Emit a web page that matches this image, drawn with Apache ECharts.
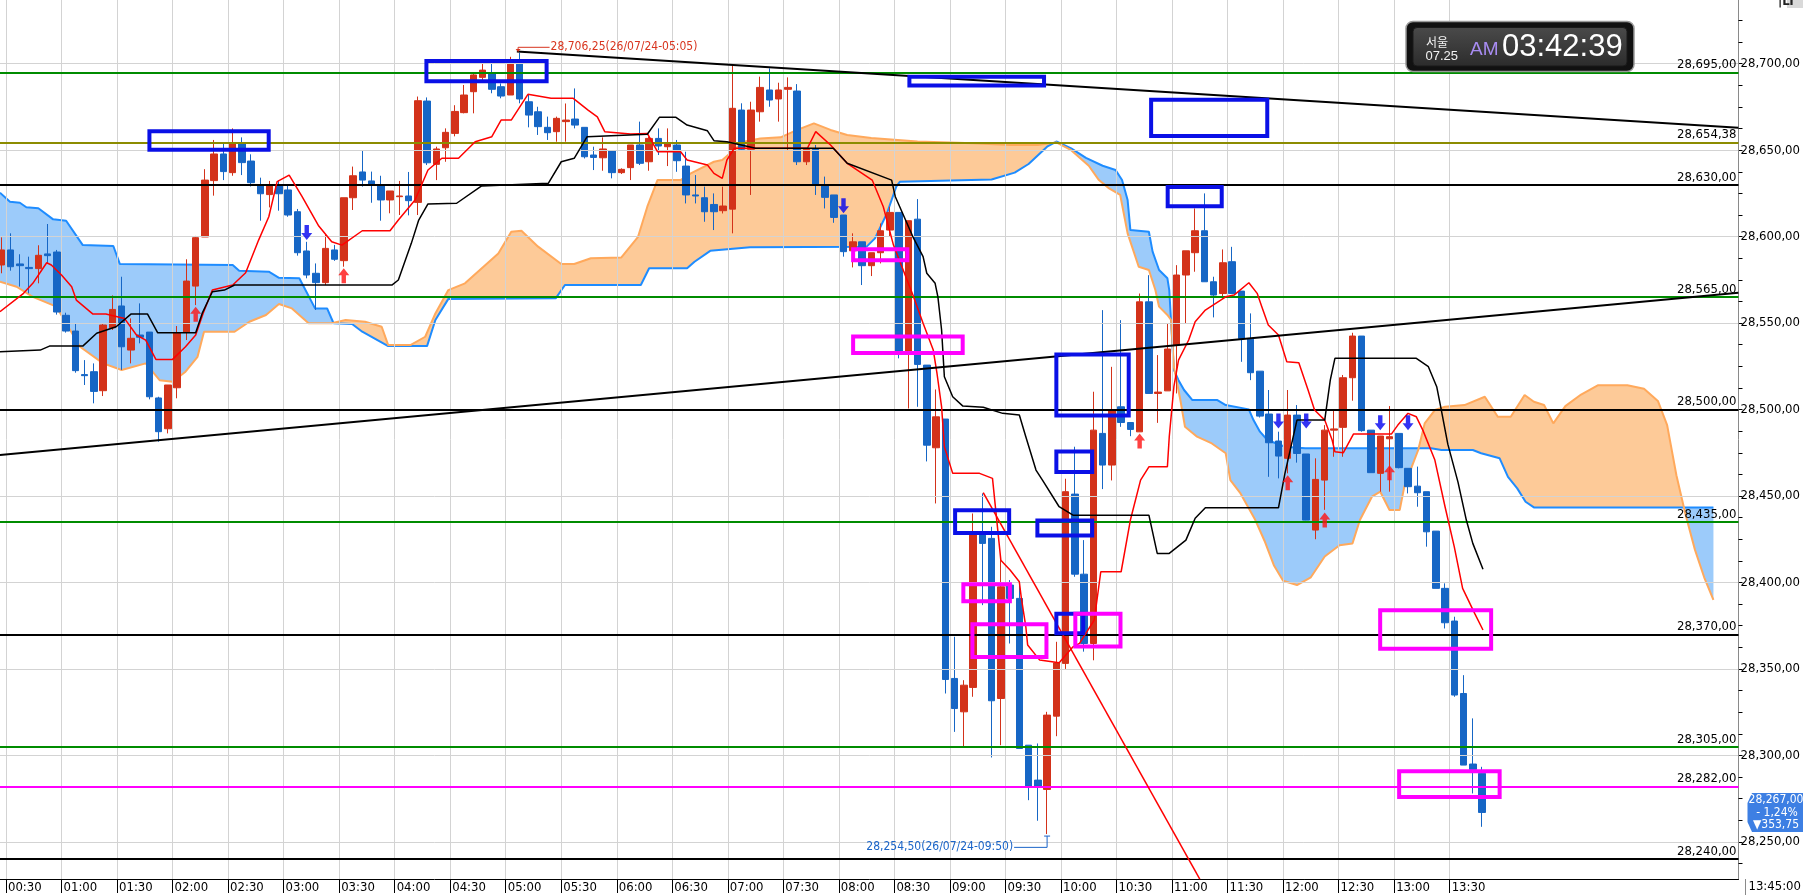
<!DOCTYPE html>
<html><head><meta charset="utf-8">
<script src="https://cdn.jsdelivr.net/npm/echarts@6/dist/echarts.min.js"></script>
<style>html,body{margin:0;padding:0;background:#fff}#c{width:1803px;height:895px}</style>
</head><body><div id="c"></div>
<script>
// ---------- DATA ----------
// 5-minute candles, first bar (-1) = 00:25, bar 0 = 00:30, last bar 159 = 13:45
const FIRST_BAR = -1;
const candleOpen = [
28583.6,28592.3,28584.2,28582.2,28581.5,28590.0,28591.1,28554.5,28545.4,28520.2,
28521.9,28510.9,28547.3,28559.9,28534.4,28543.1,28544.8,28506.7,28488.9,28512.6,
28544.8,28571.4,28599.8,28632.4,28647.8,28637.0,28654.0,28643.7,28629.9,28624.3,
28629.9,28627.0,28614.4,28591.7,28578.8,28573.4,28592.3,28586.1,28622.5,28637.4,
28632.2,28629.9,28621.2,28623.1,28623.5,28619.8,28678.4,28641.8,28651.4,28659.7,
28671.7,28683.8,28692.1,28694.4,28686.7,28681.9,28700.2,28678.0,28672.2,28663.2,
28660.7,28666.5,28668.0,28663.2,28647.2,28645.6,28649.5,28637.0,28639.9,28653.0,
28643.3,28656.8,28652.0,28653.0,28640.8,28624.1,28622.5,28618.6,28615.0,28615.9,
28673.2,28650.5,28672.2,28684.8,28679.6,28685.2,28684.2,28643.3,28650.5,28629.8,
28624.1,28612.5,28591.8,28597.0,28583.2,28590.7,28603.8,28614.0,28533.4,28610.1,
28525.7,28477.9,28494.5,28344.5,28325.2,28339.3,28427.4,28425.5,28332.9,28398.5,
28390.8,28305.9,28285.7,28280.3,28322.7,28353.2,28451.1,28404.8,28364.7,28486.2,
28467.9,28501.6,28492.5,28487.1,28562.3,28509.3,28510.8,28537.3,28577.8,28590.7,
28603.4,28573.9,28567.1,28585.5,28568.5,28540.7,28522.2,28497.4,28481.8,28471.8,
28496.8,28474.3,28430.3,28459.2,28488.1,28489.7,28518.4,28542.5,28488.1,28463.1,
28483.1,28486.2,28466.0,28455.7,28452.5,28429.7,28396.6,28377.7,28335.8,28295.0,
28289.6];
const candleHigh = [
28599.6,28601.9,28589.8,28588.4,28595.0,28607.3,28592.3,28556.0,28549.8,28528.6,
28526.7,28549.8,28566.0,28576.8,28552.7,28561.4,28544.8,28507.4,28514.2,28548.3,
28586.9,28600.4,28639.0,28655.9,28653.6,28662.6,28657.4,28647.6,28634.1,28632.2,
28632.7,28629.7,28616.0,28597.0,28584.5,28601.0,28595.2,28622.5,28640.5,28649.7,
28637.6,28635.2,28626.4,28632.2,28637.4,28681.0,28680.5,28652.0,28662.6,28676.0,
28687.7,28694.4,28700.2,28700.2,28688.6,28704.0,28706.25,28681.9,28675.1,28669.4,
28669.4,28677.0,28685.7,28663.2,28652.0,28657.4,28649.5,28639.5,28653.0,28666.5,
28657.8,28662.6,28662.6,28655.9,28649.1,28635.6,28628.9,28625.0,28628.9,28699.2,
28677.1,28678.0,28692.5,28697.3,28689.0,28692.1,28688.2,28650.5,28653.0,28634.7,
28624.1,28612.5,28601.9,28597.0,28590.7,28607.6,28617.3,28614.0,28609.2,28621.7,
28525.7,28511.6,28494.5,28368.6,28343.5,28439.9,28451.5,28432.2,28414.0,28401.4,
28400.4,28305.9,28306.9,28325.2,28365.7,28460.0,28478.5,28424.5,28510.3,28557.5,
28524.7,28551.7,28492.5,28567.1,28577.7,28531.5,28549.8,28583.5,28591.8,28616.3,
28625.0,28576.8,28592.6,28594.1,28568.5,28555.6,28522.2,28511.3,28487.2,28511.3,
28502.6,28474.3,28471.8,28491.0,28499.7,28520.0,28544.4,28542.5,28488.1,28484.7,
28502.0,28486.2,28466.0,28467.0,28452.5,28429.7,28399.5,28380.2,28346.4,28321.4,
28293.4];
const candleLow = [
28578.8,28580.3,28571.1,28567.2,28573.0,28584.5,28554.9,28544.5,28521.3,28514.2,
28503.6,28507.8,28546.0,28522.9,28526.7,28538.3,28505.9,28481.4,28486.2,28506.5,
28540.2,28560.4,28599.8,28623.7,28632.7,28635.2,28635.6,28629.0,28609.2,28616.9,
28615.0,28611.5,28589.0,28575.9,28557.6,28572.0,28586.0,28582.6,28615.4,28628.9,
28619.6,28609.2,28613.5,28612.5,28612.3,28612.5,28641.4,28632.7,28643.3,28658.0,
28671.3,28671.3,28689.6,28682.9,28680.0,28681.9,28677.1,28663.2,28658.8,28655.9,
28654.9,28654.9,28662.6,28645.2,28638.5,28638.1,28633.7,28636.2,28632.7,28641.4,
28638.1,28647.2,28640.8,28637.5,28619.2,28619.2,28608.6,28603.8,28613.4,28601.9,
28650.1,28624.1,28666.5,28675.1,28666.5,28650.1,28641.4,28641.4,28624.1,28616.3,
28608.0,28588.4,28582.2,28572.0,28577.2,28584.5,28600.0,28529.6,28500.6,28501.6,
28470.0,28445.7,28335.8,28313.6,28305.0,28333.9,28386.9,28298.8,28305.9,28364.7,
28304.0,28274.1,28262.2,28254.5,28311.1,28350.0,28403.3,28360.0,28355.0,28454.0,
28459.0,28490.0,28484.6,28487.1,28509.3,28492.3,28510.8,28509.3,28549.8,28579.7,
28573.9,28553.3,28564.3,28567.1,28527.6,28517.0,28495.4,28461.1,28460.2,28463.1,
28469.3,28436.0,28425.0,28442.0,28472.7,28472.7,28505.1,28487.2,28463.5,28452.5,
28452.5,28466.0,28451.5,28443.8,28420.7,28396.6,28373.4,28333.9,28294.4,28278.0,
28258.7];
const candleClose = [
28592.3,28582.6,28583.2,28581.5,28589.2,28589.0,28556.4,28545.4,28522.5,28519.6,
28510.5,28548.9,28557.9,28536.3,28541.2,28541.8,28507.4,28487.2,28514.2,28544.4,
28574.3,28599.4,28632.7,28647.8,28637.6,28654.0,28642.8,28631.2,28624.8,28629.9,
28624.8,28612.5,28590.7,28577.8,28573.4,28593.2,28586.9,28622.5,28635.2,28632.7,
28630.4,28621.2,28626.4,28623.5,28620.8,28678.6,28642.7,28650.7,28660.3,28672.4,
28681.9,28693.5,28696.3,28685.2,28681.3,28699.8,28679.6,28670.3,28663.6,28660.1,
28668.4,28667.4,28664.5,28646.2,28645.8,28650.7,28637.0,28638.9,28653.0,28642.4,
28656.8,28652.4,28653.9,28643.9,28624.1,28623.5,28614.4,28614.4,28617.7,28674.2,
28650.5,28673.2,28686.3,28679.0,28684.8,28686.3,28643.3,28650.5,28630.4,28622.7,
28611.1,28591.3,28597.0,28583.2,28590.7,28603.4,28614.0,28533.4,28609.2,28526.1,
28479.4,28495.8,28343.9,28327.1,28340.6,28427.4,28422.6,28331.6,28397.5,28390.8,
28304.0,28281.8,28282.2,28323.3,28353.5,28452.5,28404.8,28364.7,28488.1,28467.9,
28499.7,28492.5,28488.5,28562.3,28509.3,28510.1,28535.0,28577.8,28591.8,28603.4,
28573.9,28566.2,28584.9,28567.1,28541.1,28521.3,28496.2,28480.8,28473.1,28496.8,
28474.6,28436.1,28459.6,28488.1,28488.8,28518.4,28542.5,28487.8,28463.5,28484.7,
28484.3,28466.4,28455.4,28451.9,28429.3,28396.6,28376.7,28334.9,28294.4,28291.9,
28267.0];

// conversion line (red)
const tenkanBar = [-1.15,1.4,2.4,3.9,4.4,5.5,6.6,7.1,8.9,10.3,12.3,13.6,14.6,15.7,17.5,18.9,20,20.8,21.8,24,25.4,26.8,27.9,28.8,30.1,31.5,33.3,34.7,35.8,38,41,41.9,43.7,45.1,46.6,48.4,50.2,52,53,54.1,55.9,58.4,60.8,62.4,63.4,64.2,67,68.8,69.9,72.4,73.1,75.3,76,76.9,77.4,78.2,86.1,87,88.6,90.4,93.1,94.3,95.4,97.5,98.6,99.7,100.1,100.6,100.9,101.8,104.7,106.1,107,108,109,109.2,109.7,109.9,111.2,113.3,114.8,115.5,117.1,117.8,120,121,122.1,123,125,125.2,125.7,126.2,127.3,128,129.1,131.3,132.2,133.8,134.7,135.2,135.9,137,137.9,139.2,140.2,140.9,142,142.8,143.1,144,145.1,149.2,149.9,151,151.9,152.6,153.9,155,156,156.9,158.2,159.1];
const tenkanVal = [28556.6,28567.2,28573,28584.9,28583.6,28577.8,28571,28563.3,28555.2,28555.2,28552.7,28543.1,28540.2,28529,28529,28536.3,28543.1,28555.6,28569.1,28572,28579.1,28598,28611.5,28631.8,28635.6,28623.1,28606.1,28597,28595.1,28603.4,28603.4,28609.6,28621.2,28638.5,28645.3,28645.3,28654.9,28657.8,28667.4,28667.4,28682.3,28680,28680,28673.2,28669.3,28660.7,28659.3,28659.7,28649.1,28649.1,28644.3,28641.4,28636.6,28633.7,28644.3,28651.1,28651.1,28660.7,28653,28642.4,28632.7,28617.3,28595.1,28566.2,28549.9,28534.4,28521,28501.6,28478.5,28463.1,28463.1,28460.2,28412.9,28407.2,28400.4,28391.7,28374.4,28363.8,28355.1,28353.6,28362.8,28364.8,28378.3,28406.2,28406.2,28436.1,28459.2,28466.9,28466.9,28484.3,28513.2,28528.6,28540.2,28550.8,28557.5,28565.2,28566.2,28573.3,28567.2,28559.5,28548.9,28543.1,28527.6,28527.1,28511.3,28499.7,28493.9,28482.4,28475.6,28475,28485.8,28485.8,28491,28497.8,28495.8,28488.1,28470.8,28443.8,28420.6,28396.6,28382.1,28372.5];

// base line (black)
const kijunBar = [-1.15,3.2,4.2,7.8,9.3,11.4,13,14.8,15.9,20,20.7,21.8,23.1,24.2,41.2,41.9,43.3,44.1,45.1,48.2,50.9,58.1,59.5,60.9,62.3,68.8,70.1,71.9,73.1,75.3,76,77.4,80.5,88.9,90.4,95.2,95.6,97.5,98.6,99,99.9,100.2,100.6,100.9,101.8,102.9,105.1,107.2,109,109.7,110.8,111.5,113.3,114.8,123,123.9,125.2,127,128,129.1,137,137.7,139,142,142.6,143.1,151.9,153.2,154.1,154.6,155.3,156.4,157.3,158,159.1];
const kijunVal = [28533.4,28534.4,28536.7,28536.7,28544.1,28547.9,28555.2,28555.2,28544.4,28544.4,28555.6,28568.1,28569.1,28572,28572,28574.9,28596.1,28609.6,28618.9,28619.3,28629.3,28630.8,28643.3,28645.3,28657.8,28659.2,28669,28669,28664.5,28661.2,28655.5,28654.9,28651.1,28651.1,28642.4,28632.7,28623.1,28599.9,28588.4,28578.8,28573,28565.2,28546,28519,28507.4,28502,28501.3,28497.8,28496.8,28484.3,28465,28459.2,28443.8,28438.9,28438.9,28416.8,28416.8,28424.5,28437.1,28443.2,28443.2,28463.1,28493.9,28493.9,28517,28529.6,28529.6,28524.8,28513.2,28499.7,28480,28458,28436.1,28422.6,28407.6];

// leading spans (shifted ahead)
const spanBlueBar = [-1.15,-0.07,1,1.7,3,4.6,6,7.8,11.1,11.8,24,24.7,27.9,29,31.2,32.9,34.2,34.9,36.9,38,40.8,45,45.9,47.3,58.9,59.9,68.1,69,73.1,73.9,75.6,79.9,92.5,93.4,94.7,95.7,96.1,106,108.5,110,112,113,114.6,116.2,118,119.4,120.1,120.7,121,123,123.4,124.1,125,125.2,125.7,126.2,126.8,127.7,130.4,131.3,133.8,134.3,135,135.8,137.7,139.9,153.5,154.6,158,158.9,160,160.9,161.8,162.8,163.7,164.6,184];
const spanBlueVal = [28625.4,28620.2,28619.6,28617,28616.4,28610,28609.2,28595.1,28594.6,28584.2,28583.6,28580.3,28579.7,28576.2,28575.9,28558.5,28558.5,28549.9,28549.5,28545,28536.7,28536.7,28551.8,28564,28564.3,28572,28572,28581.7,28581.7,28585.5,28591.8,28593.8,28594.2,28599,28613.5,28628.9,28631.8,28633,28637,28642,28652,28655,28651,28645.5,28641,28638.5,28632.7,28621.2,28603.8,28602.8,28591.3,28580.7,28575.9,28569.1,28522.9,28517,28511.3,28505.5,28505.5,28502.6,28500.1,28493.9,28487.2,28482.4,28478.5,28477.6,28477.6,28476.6,28476.6,28474.7,28473.1,28471.8,28461.1,28454.4,28446.7,28443.4,28443.4];
const spanOrangeBar = [-1.15,0.65,2.4,4.95,7.5,10,12,14.6,16.1,17.5,18.9,20.2,20.9,24.2,25.8,27.6,29,30.4,32.2,34.7,36.2,38.3,40.1,40.8,43.2,44.8,45.9,47.3,49.1,52.7,54.1,55.2,57,59.5,60.9,62.7,66,67.8,68.8,69.9,72.4,73.5,76,76.9,79.2,81,83.2,85,86.8,88.6,90.4,93,98,104,108,111,113,114.6,116.5,117.6,118.7,119.9,120.7,121.9,123,123.7,124.1,125,125.4,125.7,126.4,126.9,128.2,129.8,131.3,131.8,132.9,134.5,135.5,136.5,137.5,139,140.5,142,143.6,145,145.8,147.1,148,149,150.1,150.6,151.4,152.1,152.8,153.9,155,157.1,159.3,160.7,162.1,163.6,164.6,165.7,166.7,168,169.7,171.5,174.7,176.5,178,179,180,181,182,183,184];
const spanOrangeVal = [28573.9,28571,28565.2,28559.5,28536.3,28526.7,28522.9,28526.7,28517,28516.1,28521.9,28530.5,28545,28545,28550.8,28554.7,28561,28558.5,28549.9,28549.9,28551.8,28550.8,28547.9,28537.3,28537.3,28542.1,28555.6,28569.1,28573,28590.3,28602.8,28603.4,28594.2,28584.2,28584.2,28587.5,28588,28599.9,28617.3,28632.7,28632.7,28636.6,28643.3,28644.3,28654.9,28656.8,28657.4,28661.7,28665.5,28661.7,28658.8,28657,28655,28654,28653,28653,28654.5,28650,28641,28632.7,28627.9,28624.1,28601.9,28582.6,28580.7,28569.1,28559.5,28554.7,28551.8,28524.8,28505.5,28490,28484.3,28480.4,28474.7,28459.2,28451.5,28436.1,28424,28410,28401,28398.5,28403,28415,28421.5,28422.6,28436.1,28449.6,28452.5,28441.9,28441.9,28455.4,28466.9,28476.6,28492,28499.7,28501.6,28502.6,28507.4,28495.8,28495.8,28508.4,28504.5,28502.6,28492,28502,28508.7,28514,28514,28512,28505,28491,28462,28439,28419,28403,28390];

// horizontal levels
const levelValues = [28695, 28654.38, 28630, 28565, 28500, 28435, 28370, 28305, 28282, 28240];
const levelKinds  = ['green','olive','black','green','black','green','black','green','magenta','black'];

// trend lines
const trendDownBar = [54.7, 186.7],  trendDownVal = [28707.0, 28663.0];
const trendUpBar   = [-1.15, 186.7], trendUpVal   = [28473.7, 28567.5];
const trendRedBar  = [105.1, 128.5], trendRedVal  = [28451.9, 28228.5];

// signal arrows
const upArrowBar = [20, 36, 122, 138, 142, 149];
const upArrowVal = [28559.4, 28581.7, 28486.2, 28462.0, 28440.5, 28467.8];
const downArrowBar = [32, 90, 137, 140, 148, 151];
const downArrowVal = [28598.0, 28613.5, 28489.1, 28489.1, 28488.1, 28488.1];

// annotation boxes (bar1, price1, bar2, price2), kind 0 = blue, 1 = magenta
const boxBar1 = [15.0, 44.93, 97.12, 123.24, 125.03, 113.0, 113.0, 102.06, 110.95, 113.0, 91.04, 91.04, 102.95, 103.93, 115.05, 147.99, 150.04];
const boxVal1 = [28661.0, 28701.6, 28692.4, 28679.1, 28628.7, 28531.9, 28475.8, 28441.7, 28435.9, 28381.9, 28592.7, 28542.3, 28398.9, 28375.8, 28381.9, 28383.9, 28290.8];
const boxBar2 = [27.89, 57.92, 111.67, 135.79, 130.87, 120.82, 116.87, 107.9, 116.87, 115.9, 96.9, 102.88, 107.98, 111.93, 119.93, 159.98, 160.9];
const boxVal2 = [28650.3, 28689.8, 28687.45, 28658.2, 28617.5, 28496.6, 28463.9, 28428.6, 28427.2, 28370.7, 28586.3, 28532.7, 28389.1, 28356.9, 28363.0, 28361.7, 28275.9];
const boxKind = [0,0,0,0,0,0,0,0,0,0,1,1,1,1,1,1,1];

// high / low marks
const markHigh = {bar: 55, val: 28706.25, text: '28,706,25(26/07/24-05:05)'};
const markLow  = {bar: 112, val: 28254.50, text: '28,254,50(26/07/24-09:50)'};

// axis ticks
const xTickBars = []; for (let k = 0; k <= 26; k++) xTickBars.push(6 * k - 0.5);
const yLabelVals = [28250,28300,28350,28400,28450,28500,28550,28600,28650,28700];
const yTickVals = []; for (let v = 28237.5; v <= 28737; v += 12.5) yTickVals.push(v);

const lastPrice = {price: '28,267,00', pct: '- 1,24%', chg: '▼353,75', time: '13:45:00'};
const clock = {city: '서울', date: '07.25', ampm: 'AM', time: '03:42:39'};

// ---------- HELPERS ----------
const NARROW = "'Liberation Sans Narrow','Arial Narrow','DejaVu Sans Condensed','Roboto Condensed',sans-serif";
function barTime(b) { const m = 30 + 5 * b; const h = Math.floor(m / 60), mm = Math.round(m - h * 60); return String(h).padStart(2,'0') + ':' + String(mm).padStart(2,'0'); }
function fmtPrice(v) { const s = v.toFixed(2).split('.'); return s[0].replace(/\B(?=(\d{3})+(?!\d))/g, ',') + ',' + s[1]; }
function pairs(b, v) { return b.map((x, k) => [x, v[k]]); }
function lineAt(bars, vals, b) {
  if (b <= bars[0]) return vals[0];
  for (let k = 1; k < bars.length; k++) if (b <= bars[k]) { const t = (b - bars[k-1]) / (bars[k] - bars[k-1]); return vals[k-1] + t * (vals[k] - vals[k-1]); }
  return vals[vals.length - 1];
}
const candleData = candleOpen.map((o, j) => [j + FIRST_BAR, o, candleClose[j], candleLow[j], candleHigh[j]]);
const levelColor = {green: '#008c00', olive: '#8c8c00', black: '#000000', magenta: '#ff00ff'};

function renderCloud(params, api) {
  const lo = Math.max(spanBlueBar[0], spanOrangeBar[0]);
  const hi = Math.min(spanBlueBar[spanBlueBar.length-1], spanOrangeBar[spanOrangeBar.length-1]);
  const xs = Array.from(new Set(spanBlueBar.concat(spanOrangeBar))).filter(b => b >= lo && b <= hi).sort((a, b) => a - b);
  const polys = [];
  let top = [], bot = [], curSign = 0, prev = null;
  function flush() {
    if (top.length > 1) {
      const pts = top.map(p => api.coord(p)).concat(bot.slice().reverse().map(p => api.coord(p)));
      polys.push({type: 'polygon', shape: {points: pts}, style: {fill: curSign > 0 ? '#9ccbfa' : '#fdca98', stroke: null}});
    }
    top = []; bot = [];
  }
  for (const b of xs) {
    const vb = lineAt(spanBlueBar, spanBlueVal, b), vo = lineAt(spanOrangeBar, spanOrangeVal, b);
    const d = vb - vo, s = d > 0 ? 1 : (d < 0 ? -1 : 0);
    if (prev && s !== 0 && curSign !== 0 && s !== curSign) {
      const t = prev.d / (prev.d - d);
      const bc = prev.b + t * (b - prev.b), vc = prev.vb + t * (vb - prev.vb);
      top.push([bc, vc]); bot.push([bc, vc]);
      flush();
      top.push([bc, vc]); bot.push([bc, vc]);
    }
    if (s !== 0) curSign = s;
    top.push([b, vb]); bot.push([b, vo]);
    prev = {b, vb, vo, d};
  }
  flush();
  return {type: 'group', children: polys};
}

const UP_PATH = 'path://M5,0 L10.5,7 L7.2,7 L7.2,15 L2.8,15 L2.8,7 L-0.5,7 Z';
const DOWN_PATH = 'path://M2.8,0 L7.2,0 L7.2,8 L10.5,8 L5,15 L-0.5,8 L2.8,8 Z';

// ---------- OPTION ----------
const option = {
  animation: false,
  backgroundColor: '#ffffff',
  grid: {left: 0, right: 58, top: 0, bottom: 16, containLabel: false},
  xAxis: {
    type: 'value', min: -1.1455, max: 186.71,
    axisLine: {show: true, onZero: false, lineStyle: {color: '#000', width: 1}},
    axisTick: {show: true, customValues: xTickBars, length: 14, lineStyle: {color: '#000', width: 1}},
    axisLabel: {customValues: xTickBars, formatter: v => barTime(v + 0.5), align: 'left', margin: 2, padding: [0,0,0,2], fontSize: 13, fontFamily: NARROW, color: '#000'},
    splitLine: {show: false}
  },
  yAxis: {
    type: 'value', position: 'right', min: 28228.52, max: 28736.84, scale: true,
    axisLine: {show: true, onZero: false, lineStyle: {color: '#8a8a8a', width: 1}},
    axisTick: {show: true, customValues: yTickVals, length: 4, lineStyle: {color: '#000'}},
    axisLabel: {customValues: yLabelVals, formatter: v => fmtPrice(v), margin: 2, fontSize: 13, fontFamily: NARROW, color: '#000'},
    splitLine: {show: false}
  },
  series: [
    {type: 'custom', name: 'cloud', z: 1, silent: true, data: [[spanBlueBar[0], spanBlueVal[0]]], encode: {x: 0, y: 1}, renderItem: renderCloud},
    {type: 'line', name: 'grid', z: 2, silent: true, data: [],
      markLine: {silent: true, symbol: ['none','none'], label: {show: false}, animation: false,
        lineStyle: {color: '#d3d3d3', width: 1, type: 'solid'},
        data: xTickBars.map(b => ({xAxis: b})).concat(yLabelVals.map(v => ({yAxis: v})))}},
    {type: 'line', name: 'spanBlue', z: 3, silent: true, data: pairs(spanBlueBar, spanBlueVal), showSymbol: false, symbol: 'none', lineStyle: {color: '#1e8cff', width: 2}},
    {type: 'line', name: 'spanOrange', z: 3, silent: true, data: pairs(spanOrangeBar, spanOrangeVal), showSymbol: false, symbol: 'none', lineStyle: {color: '#ffa95c', width: 2}},
    {type: 'candlestick', name: 'price', z: 4, silent: true, data: candleData, encode: {x: 0, y: [1,2,3,4]}, barWidth: 7,
      itemStyle: {color: '#d3321a', color0: '#1666c5', borderColor: '#d3321a', borderColor0: '#1666c5', borderWidth: 1}},
    {type: 'line', name: 'tenkan', z: 5, silent: true, data: pairs(tenkanBar, tenkanVal), showSymbol: false, symbol: 'none', lineStyle: {color: '#ff0000', width: 1.5}},
    {type: 'line', name: 'kijun', z: 5, silent: true, data: pairs(kijunBar, kijunVal), showSymbol: false, symbol: 'none', lineStyle: {color: '#000000', width: 1.5}},
    {type: 'line', name: 'levels', z: 6, silent: true, data: [],
      markLine: {silent: true, symbol: ['none','none'], animation: false,
        label: {show: true, position: 'insideEndTop', distance: [2, 1], color: '#000', fontSize: 13, fontFamily: NARROW, formatter: p => fmtPrice(p.value)},
        data: levelValues.map((v, k) => ({yAxis: v, lineStyle: {color: levelColor[levelKinds[k]], width: 2, type: 'solid'}}))}},
    {type: 'line', name: 'trendDown', z: 7, silent: true, data: pairs(trendDownBar, trendDownVal), showSymbol: false, symbol: 'none', lineStyle: {color: '#000', width: 2}},
    {type: 'line', name: 'trendUp', z: 7, silent: true, data: pairs(trendUpBar, trendUpVal), showSymbol: false, symbol: 'none', lineStyle: {color: '#000', width: 2}},
    {type: 'line', name: 'trendRed', z: 7, silent: true, data: pairs(trendRedBar, trendRedVal), showSymbol: false, symbol: 'none', lineStyle: {color: '#ff0000', width: 1.5}},
    {type: 'scatter', name: 'buy', z: 8, silent: true, symbol: UP_PATH, symbolSize: [11, 15], symbolOffset: [0, 7.5], itemStyle: {color: '#ff1111'}, data: pairs(upArrowBar, upArrowVal)},
    {type: 'scatter', name: 'sell', z: 8, silent: true, symbol: DOWN_PATH, symbolSize: [11, 15], symbolOffset: [0, -7.5], itemStyle: {color: '#0000f0'}, data: pairs(downArrowBar, downArrowVal)},
    {type: 'custom', name: 'boxes', z: 9, silent: true,
      data: boxBar1.map((b, k) => [b, boxVal1[k], boxBar2[k], boxVal2[k], boxKind[k]]),
      encode: {x: [0, 2], y: [1, 3]},
      renderItem: (params, api) => {
        const p1 = api.coord([api.value(0), api.value(1)]), p2 = api.coord([api.value(2), api.value(3)]);
        return {type: 'rect', shape: {x: Math.min(p1[0], p2[0]), y: Math.min(p1[1], p2[1]), width: Math.abs(p2[0]-p1[0]), height: Math.abs(p2[1]-p1[1])},
          style: {fill: 'none', stroke: api.value(4) === 0 ? '#0a10e6' : '#ff00ff', lineWidth: 4}};
      }}
  ]
};

const chart = echarts.init(document.getElementById('c'), null, {renderer: 'canvas', width: 1803, height: 895});
chart.setOption(option);

// ---------- DECORATIONS ----------
const H = chart.convertToPixel({gridIndex: 0}, [markHigh.bar, markHigh.val]);
const L = chart.convertToPixel({gridIndex: 0}, [markLow.bar, markLow.val]);
const annFont = '12px ' + NARROW;
const graphics = [
  // high mark
  {type: 'polyline', shape: {points: [[H[0]-1.5, H[1]-2], [H[0]-1.5, H[1]-5.6], [H[0]+30, H[1]-5.6]]}, style: {stroke: '#d8341e', lineWidth: 1, fill: null}, z: 20},
  {type: 'polygon', shape: {points: [[H[0]-4, H[1]-4], [H[0]+1, H[1]-4], [H[0]-1.5, H[1]-1]]}, style: {fill: '#d8341e'}, z: 20},
  {type: 'text', x: H[0]+31, y: H[1]-5.6, style: {text: markHigh.text, font: annFont, fill: '#d8341e', align: 'left', verticalAlign: 'middle'}, z: 20},
  // low mark
  {type: 'polyline', shape: {points: [[L[0], L[1]+2], [L[0], L[1]+13.3], [L[0]-33, L[1]+13.3]]}, style: {stroke: '#1a64c8', lineWidth: 1, fill: null}, z: 20},
  {type: 'line', shape: {x1: L[0]-3, y1: L[1]+2, x2: L[0]+3, y2: L[1]+2}, style: {stroke: '#1a64c8', lineWidth: 1}, z: 20},
  {type: 'text', x: L[0]-34, y: L[1]+12.8, style: {text: markLow.text, font: annFont, fill: '#1a64c8', align: 'right', verticalAlign: 'middle'}, z: 20},
  // right axis line extension to bottom
  {type: 'line', shape: {x1: 1745.5, y1: 879, x2: 1745.5, y2: 895}, style: {stroke: '#8a8a8a', lineWidth: 1}, z: 20},
  // time label at bottom right
  {type: 'text', x: 1801, y: 887, style: {text: lastPrice.time, font: '13px ' + NARROW, fill: '#000', align: 'right', verticalAlign: 'middle'}, z: 20},
  // last price tag
  {type: 'polygon', shape: {points: [[1752, 793], [1803, 793], [1803, 832], [1752, 832], [1747.5, 822], [1747.5, 803]]}, style: {fill: '#3d7fe3'}, z: 20},
  {type: 'text', x: 1776, y: 800, style: {text: lastPrice.price, font: '12px ' + NARROW, fill: '#fff', align: 'center', verticalAlign: 'middle'}, z: 21},
  {type: 'text', x: 1777, y: 812.5, style: {text: lastPrice.pct, font: '12px ' + NARROW, fill: '#fff', align: 'center', verticalAlign: 'middle'}, z: 21},
  {type: 'text', x: 1776, y: 825, style: {text: lastPrice.chg, font: '12px ' + NARROW, fill: '#fff', align: 'center', verticalAlign: 'middle'}, z: 21},
  // top-right LT tag
  {type: 'rect', shape: {x: 1787, y: 0, width: 16, height: 8}, style: {fill: '#d9d9d9'}, z: 20},
  {type: 'text', x: 1778, y: 8, style: {text: '|LT', font: 'bold 13px ' + NARROW, fill: '#222', align: 'left', verticalAlign: 'bottom'}, z: 21},
  // clock widget
  {type: 'rect', shape: {x: 1406, y: 21.5, width: 228, height: 50, r: 7}, style: {fill: '#111111', stroke: '#9a9a9a', lineWidth: 1.5}, z: 20},
  {type: 'rect', shape: {x: 1413, y: 27.5, width: 214, height: 38.5, r: 4},
    style: {fill: new echarts.graphic.LinearGradient(0, 0, 0, 1, [{offset: 0, color: '#4a4a4a'}, {offset: 1, color: '#2c2c2c'}]), stroke: '#1a1a1a', lineWidth: 1}, z: 21},
  {type: 'text', x: 1426, y: 42, style: {text: clock.city, font: '12px "Noto Sans CJK KR", sans-serif', fill: '#f2f2f2', align: 'left', verticalAlign: 'middle'}, z: 22},
  {type: 'text', x: 1425.5, y: 56, style: {text: clock.date, font: '13px "Liberation Sans", Arial, sans-serif', fill: '#f2f2f2', align: 'left', verticalAlign: 'middle'}, z: 22},
  {type: 'text', x: 1470, y: 49.5, style: {text: clock.ampm, font: '19px "Liberation Sans", Arial, sans-serif', fill: '#a88cf2', align: 'left', verticalAlign: 'middle'}, z: 22},
  {type: 'text', x: 1502, y: 47.5, style: {text: clock.time, font: '31px "Liberation Sans", Arial, sans-serif', fill: '#ffffff', align: 'left', verticalAlign: 'middle'}, z: 22}
];
chart.setOption({graphic: graphics});
</script>
</body></html>
